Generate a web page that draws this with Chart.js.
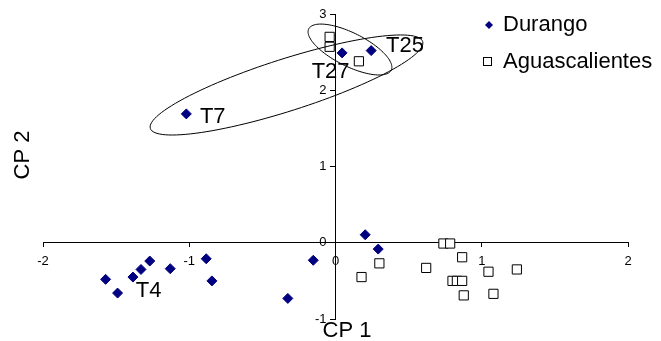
<!DOCTYPE html>
<html>
<head>
<meta charset="utf-8">
<script src="https://cdn.jsdelivr.net/npm/chart.js@4.4.0/dist/chart.umd.min.js"></script>
<style>
  html, body { margin: 0; padding: 0; background: #fff; }
  #wrap { width: 661px; height: 341px; }
</style>
</head>
<body>
<div id="wrap"><canvas id="pcaChart" width="661" height="341"></canvas></div>
<script>
// PCA scores
const durangoX = [-1.02, 0.045, 0.244, -1.572, -1.49, -1.385, -1.33, -1.27, -1.13, -0.884, -0.845, -0.326, -0.152, 0.203, 0.292];
const durangoY = [1.69, 2.49, 2.52, -0.48, -0.66, -0.45, -0.35, -0.24, -0.34, -0.21, -0.50, -0.73, -0.23, 0.105, -0.083];
const aguasX = [-0.04, -0.04, 0.16, 0.30, 0.178, 0.62, 0.738, 0.784, 0.866, 0.80, 0.83, 0.866, 0.877, 1.046, 1.08, 1.24];
const aguasY = [2.70, 2.57, 2.38, -0.27, -0.45, -0.33, -0.01, -0.01, -0.19, -0.50, -0.50, -0.50, -0.69, -0.38, -0.67, -0.35];

const xTicks = [-2, -1, 0, 1, 2];
const yTicks = [-1, 0, 1, 2, 3];

// text labels next to points (left edge, baseline)
const labelNames = ['T7', 'T25', 'T27', 'T4'];
const labelX = [-0.927, 0.345, -0.163, -1.366];
const labelY = [1.57, 2.505, 2.157, -0.715];

// ellipses: centre and half axis vectors, in data units
const ellipseCenter = [[-0.335, 2.069], [0.099, 2.534]];
const ellipseMajor = [[0.931, 0.570], [0.282, -0.271]];
const ellipseMinor = [[0.054, -0.325], [-0.051, -0.195]];

const FONT = "'Liberation Sans', Arial, sans-serif";

function toPoints(xs, ys) {
    return xs.map((x, i) => ({ x: x, y: ys[i] }));
}

const overlay = {
    id: 'overlay',
    afterDatasetsDraw(chart) {
        const ctx = chart.ctx;
        const sx = chart.scales.x, sy = chart.scales.y;
        ctx.save();

        // y tick labels (chart.js puts them on the axis line when the axis is centred)
        ctx.fillStyle = '#000';
        ctx.font = '13px ' + FONT;
        ctx.textAlign = 'right';
        ctx.textBaseline = 'middle';
        const axisX = sx.getPixelForValue(0);
        yTicks.forEach(v => {
            ctx.fillText(String(v), axisX - 9, sy.getPixelForValue(v));
        });

        // ellipses
        ctx.strokeStyle = '#000';
        ctx.lineWidth = 1;
        ellipseCenter.forEach((c, k) => {
            ctx.beginPath();
            for (let i = 0; i <= 120; i++) {
                const t = i / 120 * Math.PI * 2;
                const dx = c[0] + Math.cos(t) * ellipseMajor[k][0] + Math.sin(t) * ellipseMinor[k][0];
                const dy = c[1] + Math.cos(t) * ellipseMajor[k][1] + Math.sin(t) * ellipseMinor[k][1];
                const px = sx.getPixelForValue(dx), py = sy.getPixelForValue(dy);
                if (i === 0) ctx.moveTo(px, py); else ctx.lineTo(px, py);
            }
            ctx.closePath();
            ctx.stroke();
        });

        // point labels
        ctx.font = '22px ' + FONT;
        ctx.textAlign = 'left';
        ctx.textBaseline = 'alphabetic';
        labelNames.forEach((name, i) => {
            ctx.fillText(name, sx.getPixelForValue(labelX[i]), sy.getPixelForValue(labelY[i]));
        });

        // axis titles
        ctx.textAlign = 'center';
        ctx.fillText('CP 1', 347, 337);
        ctx.save();
        ctx.translate(29, 155);
        ctx.rotate(-Math.PI / 2);
        ctx.fillText('CP 2', 0, 0);
        ctx.restore();

        // legend
        ctx.textAlign = 'left';
        ctx.textBaseline = 'middle';
        ctx.fillStyle = '#000080';
        ctx.beginPath();
        ctx.moveTo(485, 25); ctx.lineTo(489, 21); ctx.lineTo(493, 25); ctx.lineTo(489, 29);
        ctx.closePath();
        ctx.fill();
        ctx.fillStyle = '#000';
        ctx.fillText('Durango', 503, 25);
        ctx.strokeRect(483.5, 57.5, 8, 8);
        ctx.fillText('Aguascalientes', 503, 62);

        ctx.restore();
    }
};

const ctx = document.getElementById('pcaChart').getContext('2d');
const pcaChart = new Chart(ctx, {
    type: 'scatter',
    data: {
        datasets: [{
            label: 'Durango',
            data: toPoints(durangoX, durangoY),
            pointStyle: 'rectRot',
            pointRadius: 5,
            backgroundColor: '#000080',
            borderColor: '#000080',
            borderWidth: 1
        }, {
            label: 'Aguascalientes',
            data: toPoints(aguasX, aguasY),
            pointStyle: 'rect',
            pointRadius: 6.5,
            backgroundColor: '#fff',
            borderColor: '#000',
            borderWidth: 1
        }]
    },
    options: {
        responsive: false,
        animation: false,
        layout: { padding: { left: 43, right: 33, top: 14, bottom: 22 } },
        plugins: {
            legend: { display: false },
            tooltip: { enabled: false }
        },
        scales: {
            x: {
                type: 'linear',
                min: -2,
                max: 2,
                position: { y: 0 },
                afterBuildTicks: s => { s.ticks = xTicks.map(v => ({ value: v })); },
                afterFit: s => { s.height = 0; },
                ticks: { color: '#000', font: { size: 13, family: FONT }, padding: 7, maxRotation: 0 },
                grid: { drawOnChartArea: false, drawTicks: true, tickLength: 4, color: '#000' },
                border: { color: '#000', width: 1 }
            },
            y: {
                type: 'linear',
                min: -1,
                max: 3,
                position: { x: 0 },
                afterBuildTicks: s => { s.ticks = yTicks.map(v => ({ value: v })); },
                afterFit: s => { s.width = 0; },
                ticks: { display: false },
                grid: { drawOnChartArea: false, drawTicks: true, tickLength: 5, color: '#000' },
                border: { color: '#000', width: 1 }
            }
        }
    },
    plugins: [overlay]
});
</script>
</body>
</html>
